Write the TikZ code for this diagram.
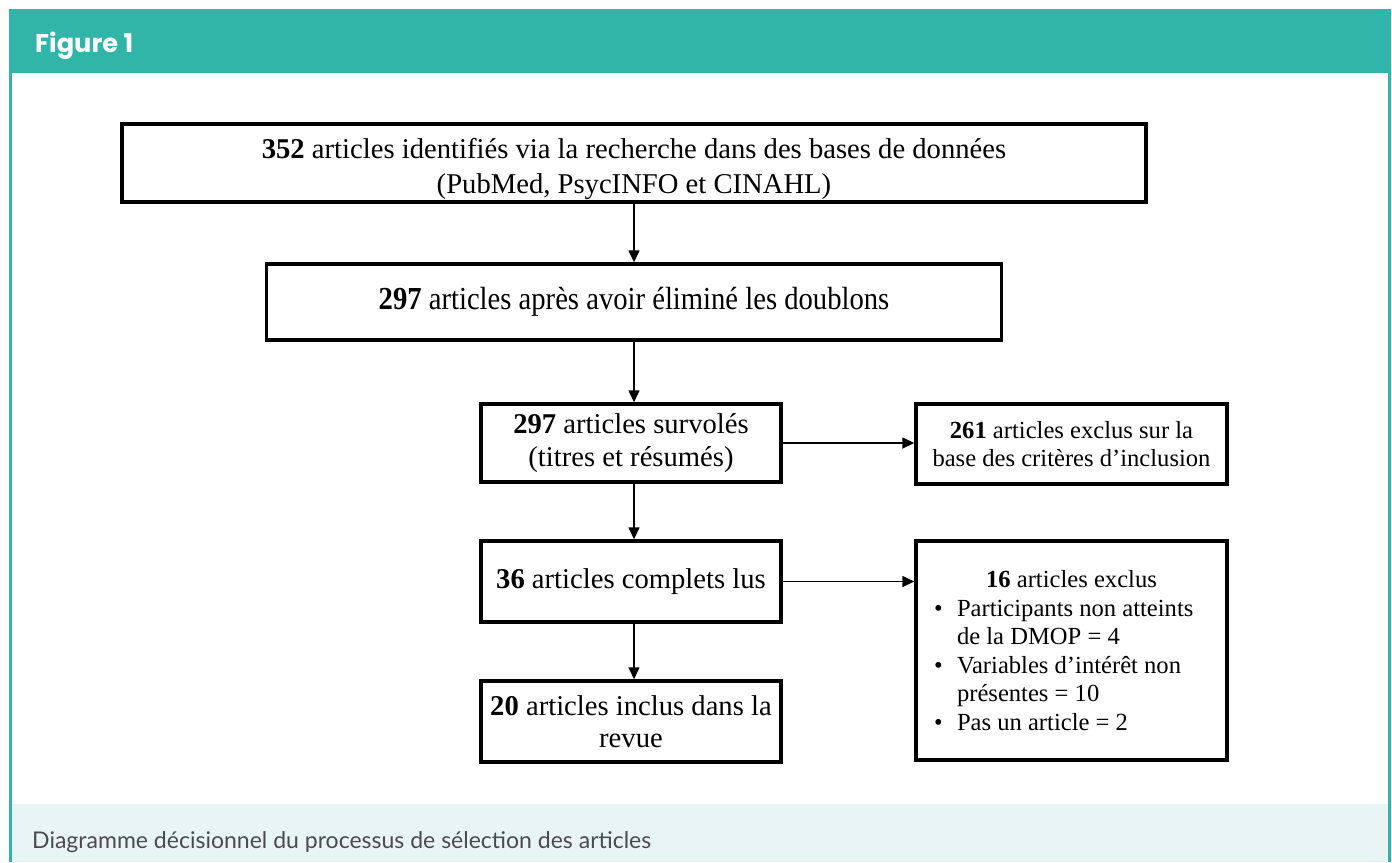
\documentclass[tikz,border=0pt]{standalone}
\usepackage{fontspec}
\usetikzlibrary{arrows.meta}
\setmainfont{Liberation Serif}
\newfontfamily\headfont{Poppins}
\newfontfamily\capfont{Lato}
\definecolor{teal1}{RGB}{48,181,168}
\definecolor{capbg}{RGB}{233,245,245}
\definecolor{capgray}{RGB}{75,75,75}

\begin{document}
\begin{tikzpicture}[x=0.02cm, y=-0.02cm,
    stage/.style={rectangle, draw, line width=2pt, inner sep=0pt, align=center,
        font=\fontsize{16.3}{18.5}\selectfont},
    side/.style={stage, font=\fontsize{14}{16.2}\selectfont},
    flow/.style={line width=0.9pt, -{Triangle[length=2.4mm, width=2.2mm]}}]
    % frame
    \useasboundingbox (0,0) rectangle (1392,862);
    \fill[white] (0,0) rectangle (1392,862);
    \fill[capbg] (11,804) rectangle (1389,862);
    \fill[teal1] (9,9) rectangle (1391,73);
    \fill[teal1] (9,73) rectangle (12,862);
    \fill[teal1] (1388,73) rectangle (1391,862);
    \node[anchor=west, text=white, font=\headfont\bfseries\fontsize{14.6}{17}\selectfont] (title) at (29,46) {Figure 1};
    \node[anchor=west, text=capgray, font=\capfont\fontsize{13.1}{15}\selectfont] (caption) at (26,842) {Diagramme décisionnel du processus de sélection des articles};

    % boxes
    \node[stage, minimum width=20.48cm, minimum height=1.56cm, font=\fontsize{16.3}{20}\selectfont] (found) at (634,163)
        {\raisebox{0pt}[\dimexpr\height+6.8pt]{\textbf{352} articles identifiés via la recherche dans des bases de données}\\(PubMed, PsycINFO et CINAHL)};
    \node[stage, minimum width=14.7cm, minimum height=1.52cm] (dedup) at (634,302)
        {\scalebox{1}[1.12]{\textbf{297} articles après avoir éliminé les doublons}};
    \node[stage, minimum width=6cm, minimum height=1.56cm] (screen) at (631,443)
        {\textbf{297} articles survolés\\(titres et résumés)};
    \node[stage, minimum width=6cm, minimum height=1.62cm] (full) at (631,581.5)
        {\textbf{36} articles complets lus};
    \node[stage, minimum width=6cm, minimum height=1.62cm] (incl) at (631,721.5)
        {\textbf{20} articles inclus dans la\\revue};
    \node[side, minimum width=6.22cm, minimum height=1.6cm] (excl1) at (1071.5,444)
        {\textbf{261} articles exclus sur la\\base des critères d’inclusion};
    \node[side, minimum width=6.22cm, minimum height=4.38cm, align=left] (excl2) at (1071.5,650.5)
        {\makebox[6.22cm][c]{\textbf{16} articles exclus}\\
         \makebox[6.22cm][l]{\hspace{0.36cm}\makebox[0.46cm][l]{•}Participants non atteints}\\
         \makebox[6.22cm][l]{\hspace{0.82cm}de la DMOP = 4}\\
         \makebox[6.22cm][l]{\hspace{0.36cm}\makebox[0.46cm][l]{•}Variables d’intérêt non}\\
         \makebox[6.22cm][l]{\hspace{0.82cm}présentes = 10}\\
         \makebox[6.22cm][l]{\hspace{0.36cm}\makebox[0.46cm][l]{•}Pas un article = 2}};

    % arrows
    \draw[flow] (found.south -| 634,0) -- (dedup.north -| 634,0);
    \draw[flow] (dedup.south -| 634,0) -- (screen.north -| 634,0);
    \draw[flow] (screen.south -| 634,0) -- (full.north -| 634,0);
    \draw[flow] (full.south -| 634,0) -- (incl.north -| 634,0);
    \draw[flow] (screen.east) -- (screen.east -| excl1.west);
    \draw[flow] (full.east) -- (full.east -| excl2.west);
\end{tikzpicture}
\end{document}
